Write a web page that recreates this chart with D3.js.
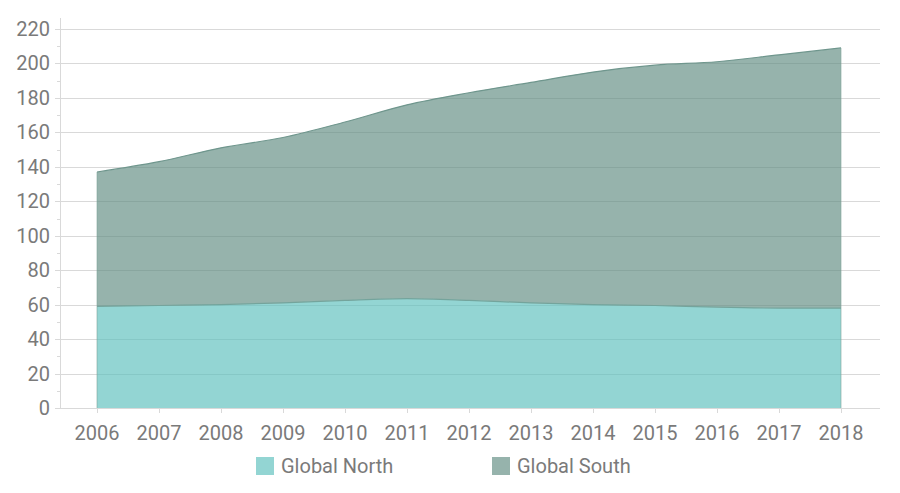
<!DOCTYPE html>
<html>
<head>
<meta charset="utf-8">
<script src="https://cdn.jsdelivr.net/npm/d3@7"></script>
<style>
  body { margin: 0; background: #fff; }
  text { font-family: Roboto, sans-serif; }
</style>
</head>
<body>
<div id="chart"></div>
<script>
const years = [2006, 2007, 2008, 2009, 2010, 2011, 2012, 2013, 2014, 2015, 2016, 2017, 2018]
const globalNorth = [59, 59.5, 60, 61, 62.5, 63.5, 62.5, 61, 60, 59.5, 58.5, 58, 58]
const globalSouth = [78, 83.5, 91, 96, 103.5, 112.5, 120.5, 128, 135, 139.5, 142.5, 147, 151]
const seriesNames = ['Global North', 'Global South']
const yTicks = [0, 20, 40, 60, 80, 100, 120, 140, 160, 180, 200, 220]

const width = 900,
      height = 493

const svg = d3.select('#chart')
  .append('svg')
  .attr('width', width)
  .attr('height', height)

const x = d3.scaleLinear()
  .domain([2006, 2018])
  .range([97, 841])

const y = d3.scaleLinear()
  .domain([0, 220])
  .range([408, 29])

const rows = years.map(function(yr, i) {
  return {year: yr, north: globalNorth[i], south: globalSouth[i]}
})

const stack = d3.stack().keys(['north', 'south'])
const layers = stack(rows)

const fills = ['#59bebb', '#5e8a80']
const strokes = ['#74a49c', '#6f968d']
const fontSize = '20px'
const textColor = '#7a7a7a'

// grid
svg.append('g')
  .selectAll('line')
  .data(yTicks)
  .enter()
  .append('line')
  .attr('x1', 55)
  .attr('x2', 880)
  .attr('y1', function(d) { return Math.round(y(d)) + 0.5 })
  .attr('y2', function(d) { return Math.round(y(d)) + 0.5 })
  .attr('stroke', '#d9d9d9')
  .attr('stroke-width', 1)

// minor ticks on y axis
svg.append('g')
  .selectAll('line')
  .data(d3.range(10, 220, 20))
  .enter()
  .append('line')
  .attr('x1', 57)
  .attr('x2', 60)
  .attr('y1', function(d) { return Math.round(y(d)) + 0.5 })
  .attr('y2', function(d) { return Math.round(y(d)) + 0.5 })
  .attr('stroke', '#d9d9d9')

// y axis line
svg.append('line')
  .attr('x1', 60.5).attr('x2', 60.5)
  .attr('y1', 18).attr('y2', 408)
  .attr('stroke', '#d9d9d9')

// areas
const area = d3.area()
  .curve(d3.curveMonotoneX)
  .x(function(d) { return x(d.data.year) })
  .y0(function(d) { return y(d[0]) })
  .y1(function(d) { return y(d[1]) })

const line = d3.line()
  .curve(d3.curveMonotoneX)
  .x(function(d) { return x(d.data.year) })
  .y(function(d) { return y(d[1]) })

svg.append('g')
  .selectAll('path')
  .data(layers)
  .enter()
  .append('path')
  .attr('d', area)
  .attr('fill', function(d, i) { return fills[i] })
  .attr('fill-opacity', 0.65)

svg.append('g')
  .selectAll('path')
  .data(layers)
  .enter()
  .append('path')
  .attr('d', line)
  .attr('fill', 'none')
  .attr('stroke', function(d, i) { return strokes[i] })
  .attr('stroke-width', 1.2)

// side edges of the stack
svg.append('g')
  .selectAll('line')
  .data([0, years.length - 1])
  .enter()
  .append('line')
  .attr('x1', function(i) { return x(years[i]) })
  .attr('x2', function(i) { return x(years[i]) })
  .attr('y1', y(0))
  .attr('y2', function(i) { return y(globalNorth[i] + globalSouth[i]) })
  .attr('stroke', '#7fa39a')
  .attr('stroke-opacity', 0.6)
  .attr('stroke-width', 1)

// y labels
svg.append('g')
  .selectAll('text')
  .data(yTicks)
  .enter()
  .append('text')
  .attr('x', 50)
  .attr('y', function(d) { return y(d) })
  .attr('dy', '0.35em')
  .attr('text-anchor', 'end')
  .attr('fill', textColor)
  .style('font-size', fontSize)
  .text(function(d) { return d })

// x axis
svg.append('line')
  .attr('x1', 55).attr('x2', 880)
  .attr('y1', 408.5).attr('y2', 408.5)
  .attr('stroke', '#d9d9d9')

const xAxis = svg.append('g')
xAxis.selectAll('line')
  .data(years)
  .enter()
  .append('line')
  .attr('x1', function(d) { return Math.round(x(d)) + 0.5 })
  .attr('x2', function(d) { return Math.round(x(d)) + 0.5 })
  .attr('y1', 408)
  .attr('y2', 413)
  .attr('stroke', '#d9d9d9')

xAxis.selectAll('text')
  .data(years)
  .enter()
  .append('text')
  .attr('x', function(d) { return x(d) })
  .attr('y', 440)
  .attr('text-anchor', 'middle')
  .attr('fill', textColor)
  .style('font-size', fontSize)
  .text(function(d) { return d })

// legend
const legendX = [256, 492]
const legend = svg.append('g')
  .selectAll('g')
  .data(seriesNames)
  .enter()
  .append('g')
  .attr('transform', function(d, i) { return 'translate(' + legendX[i] + ',457)' })

legend.append('rect')
  .attr('width', 18)
  .attr('height', 18)
  .attr('fill', function(d, i) { return fills[i] })
  .attr('fill-opacity', 0.65)

legend.append('text')
  .attr('x', 25)
  .attr('y', 9)
  .attr('dy', '0.35em')
  .attr('fill', textColor)
  .style('font-size', fontSize)
  .text(function(d) { return d })
</script>
</body>
</html>
